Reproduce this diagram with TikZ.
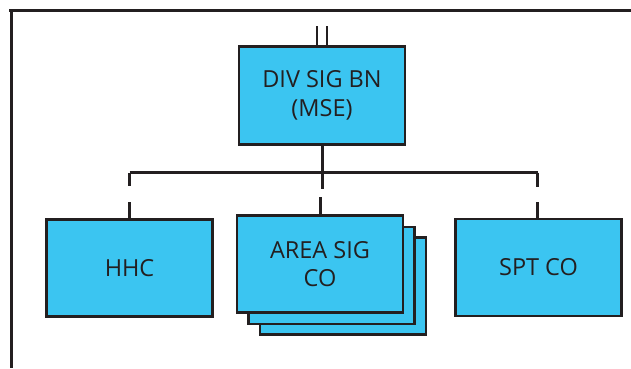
\documentclass[tikz,border=0pt]{standalone}
\usepackage{fontspec}
\setmainfont{Open Sans}
\definecolor{boxfill}{HTML}{3BC5F1}
\definecolor{ink}{HTML}{231F20}
\begin{document}
\begin{tikzpicture}[x=1pt,y=-1pt,
  unitbox/.style={draw=ink,fill=boxfill,line width=2.6pt,minimum width=166pt,minimum height=97pt,
    align=center,font=\fontsize{23.5}{28.5}\selectfont,text=ink,inner sep=0pt},
  link/.style={draw=ink,line width=3pt}]
\useasboundingbox (0,0) rectangle (631,368);
% frame
\draw[ink,line width=2.6pt] (9,10.5) -- (631,10.5);
\draw[ink,line width=2.6pt] (11.5,9.5) -- (11.5,368);
% nodes
\node[unitbox,minimum height=98pt] (div) at (322,95.5) {DIV SIG BN\\(MSE)};
\node[unitbox] (hhc) at (129.5,268) {HHC};
\node[unitbox] (area3) at (343,286) {};
\node[unitbox] (area2) at (331.5,275.5) {};
\node[unitbox] (area) at (320,264) {AREA SIG\\CO};
\node[unitbox] (spt) at (538.5,267.5) {SPT CO};
% double line above DIV
\draw[link,line width=2.6pt] ([xshift=-5pt]div.north) -- ++(0,-19);
\draw[link,line width=2.6pt] ([xshift=5pt]div.north) -- ++(0,-19);
% bus
\coordinate (bus) at (322,172.5);
\coordinate (busL) at (129.5,172.5);
\coordinate (busR) at (537.5,172.5);
\draw[link] (div.south) -- (bus);
\draw[link] (busL) -- (busR);
\draw[link] ([xshift=0pt]busL) -- ++(0,13);
\draw[link] (hhc.north) -- ++(0,-16);
\draw[link] (bus) -- ++(0,16);
\draw[link] (area.north) -- ++(0,-17);
\draw[link] (busR) -- ++(0,14);
\draw[link] ([xshift=-1pt]spt.north) -- ++(0,-16);
\end{tikzpicture}
\end{document}
